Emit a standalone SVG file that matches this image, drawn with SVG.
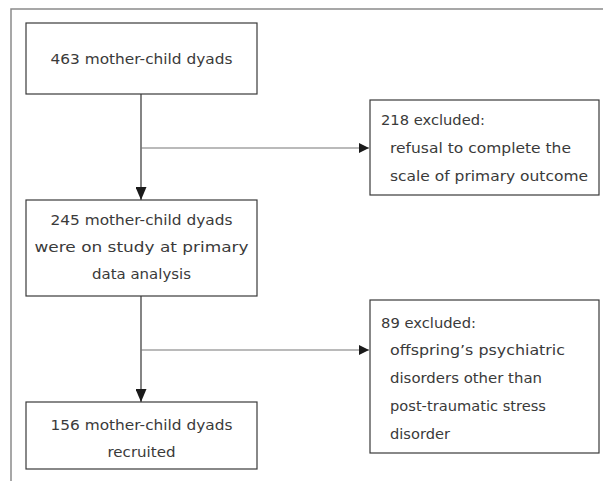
<svg xmlns="http://www.w3.org/2000/svg" width="603" height="481" viewBox="0 0 603 481">
<defs>
<style>
.box{fill:#fff;stroke:#3a3a3a;stroke-width:1.2}
.frame{fill:none;stroke:#8a8a8a;stroke-width:1.5}
.t{font-family:"DejaVu Sans","Liberation Sans",sans-serif;font-size:14.5px;fill:#3a3a3a}
.c{text-anchor:middle}
.v{stroke:#333;stroke-width:1.2;fill:none}
.h{stroke:#777;stroke-width:1.2;fill:none}
</style>
<marker id="ah" viewBox="0 0 10 10" refX="10" refY="5" markerWidth="10" markerHeight="10" markerUnits="userSpaceOnUse" orient="auto">
<path d="M0,0 L10,5 L0,10 Z" fill="#1a1a1a"/>
</marker>
<marker id="av" viewBox="0 0 13 11" refX="13" refY="5.5" markerWidth="13" markerHeight="11" markerUnits="userSpaceOnUse" orient="auto">
<path d="M0,0 L13,5.5 L0,11 Z" fill="#1a1a1a"/>
</marker>
</defs>
<rect width="603" height="481" fill="#fff"/>
<path class="frame" d="M11,481 V9 H603"/>
<g id="connectors">
<line class="v" x1="141" y1="94" x2="141" y2="200" marker-end="url(#av)"/>
<line class="h" x1="141" y1="148" x2="369" y2="148" marker-end="url(#ah)"/>
<line class="v" x1="141" y1="296" x2="141" y2="402" marker-end="url(#av)"/>
<line class="h" x1="141" y1="350" x2="369" y2="350" marker-end="url(#ah)"/>
</g>
<g id="n1">
<rect class="box" x="26" y="23" width="231" height="71"/>
<text class="t c" x="141.5" y="64" textLength="182" lengthAdjust="spacingAndGlyphs">463 mother-child dyads</text>
</g>
<g id="n2">
<rect class="box" x="370" y="100" width="229" height="95"/>
<text class="t" x="381" y="125" textLength="104" lengthAdjust="spacingAndGlyphs">218 excluded:</text>
<text class="t" x="390" y="153" textLength="181" lengthAdjust="spacingAndGlyphs">refusal to complete the</text>
<text class="t" x="390" y="181" textLength="198" lengthAdjust="spacingAndGlyphs">scale of primary outcome</text>
</g>
<g id="n3">
<rect class="box" x="26" y="200" width="231" height="96"/>
<text class="t c" x="141.5" y="225" textLength="182" lengthAdjust="spacingAndGlyphs">245 mother-child dyads</text>
<text class="t c" x="141.5" y="252" textLength="214" lengthAdjust="spacingAndGlyphs">were on study at primary</text>
<text class="t c" x="141.5" y="279" textLength="99" lengthAdjust="spacingAndGlyphs">data analysis</text>
</g>
<g id="n4">
<rect class="box" x="370" y="300" width="229" height="153"/>
<text class="t" x="381" y="328" textLength="95" lengthAdjust="spacingAndGlyphs">89 excluded:</text>
<text class="t" x="390" y="355" textLength="175" lengthAdjust="spacingAndGlyphs">offspring’s psychiatric</text>
<text class="t" x="390" y="383" textLength="152" lengthAdjust="spacingAndGlyphs">disorders other than</text>
<text class="t" x="390" y="411" textLength="156" lengthAdjust="spacingAndGlyphs">post-traumatic stress</text>
<text class="t" x="390" y="439" textLength="60" lengthAdjust="spacingAndGlyphs">disorder</text>
</g>
<g id="n5">
<rect class="box" x="26" y="402" width="231" height="67"/>
<text class="t c" x="141.5" y="430" textLength="182" lengthAdjust="spacingAndGlyphs">156 mother-child dyads</text>
<text class="t c" x="141.5" y="457" textLength="68" lengthAdjust="spacingAndGlyphs">recruited</text>
</g>
</svg>
